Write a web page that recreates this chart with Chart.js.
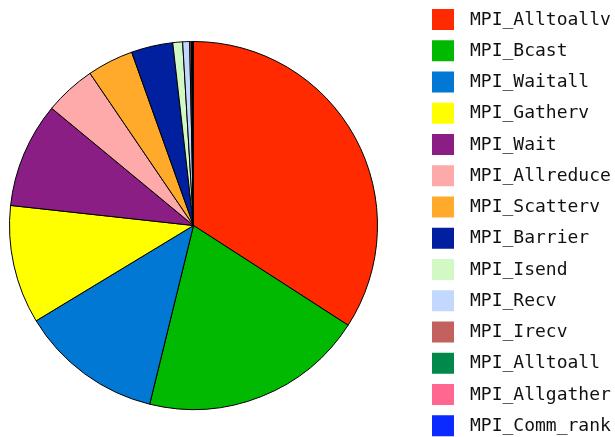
<!DOCTYPE html>
<html>
<head>
<meta charset="utf-8">
<script src="https://cdn.jsdelivr.net/npm/chart.js@4/dist/chart.umd.min.js"></script>
<style>
html,body{margin:0;padding:0;background:#fff;}
canvas{display:block;}
</style>
</head>
<body>
<canvas id="c" width="615" height="437"></canvas>
<script>
const categories = ["MPI_Alltoallv","MPI_Bcast","MPI_Waitall","MPI_Gatherv","MPI_Wait","MPI_Allreduce","MPI_Scatterv","MPI_Barrier","MPI_Isend","MPI_Recv","MPI_Irecv","MPI_Alltoall","MPI_Allgather","MPI_Comm_rank"];
const values = [34.1, 19.7, 12.5, 10.4, 9.25, 4.5, 4.05, 3.65, 0.86, 0.61, 0.14, 0.08, 0.06, 0.05];
const colors = ["#ff2a00","#00b900","#0078d4","#ffff00","#8b1e85","#ffaaaa","#ffaa2a","#0020a0","#d2f8c4","#c2d8ff","#c2615d","#00894a","#ff6690","#0a2aff"];

const legendPlugin = {
  id: 'sideLegend',
  afterDraw(chart) {
    const ctx = chart.ctx;
    const labels = chart.data.labels;
    const bg = chart.data.datasets[0].backgroundColor;
    ctx.save();
    ctx.font = '18px "DejaVu Sans Mono", "Liberation Mono", monospace';
    ctx.textBaseline = 'middle';
    ctx.textAlign = 'left';
    labels.forEach((lab, i) => {
      const top = 9 + i * 31.25;
      ctx.fillStyle = bg[i];
      ctx.fillRect(432, top, 22, 21);
      ctx.fillStyle = '#111';
      ctx.fillText(lab, 470, top + 11);
    });
    ctx.restore();
  }
};

new Chart(document.getElementById('c'), {
  type: 'pie',
  data: {
    labels: categories,
    datasets: [{
      data: values,
      backgroundColor: colors,
      borderColor: '#000',
      borderWidth: 1
    }]
  },
  options: {
    responsive: false,
    animation: false,
    devicePixelRatio: 1,
    layout: { padding: { left: 8, right: 236, top: 41, bottom: 27 } },
    plugins: {
      legend: { display: false },
      tooltip: { enabled: false }
    }
  },
  plugins: [legendPlugin]
});
</script>
</body>
</html>
